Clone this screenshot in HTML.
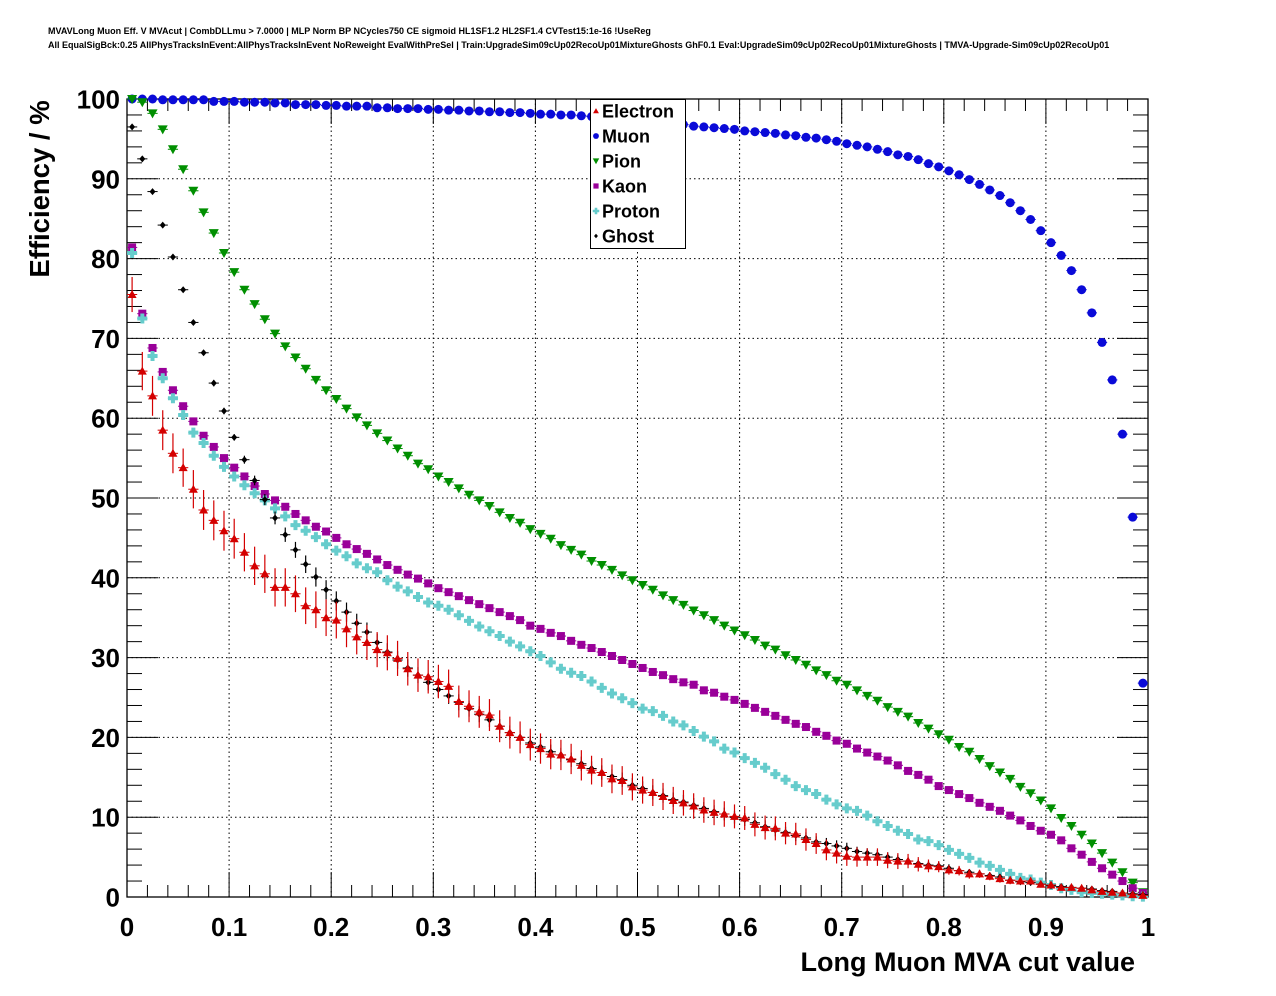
<!DOCTYPE html>
<html><head><meta charset="utf-8"><style>
html,body{margin:0;padding:0;background:#fff;}
svg{display:block;font-family:"Liberation Sans",Arial,sans-serif;}
</style></head><body>
<svg id="chart" width="1276" height="996" viewBox="0 0 1276 996" xmlns="http://www.w3.org/2000/svg">
<rect x="0" y="0" width="1276" height="996" fill="#fff"/>
<text x="48" y="34" font-size="9" font-weight="bold">MVAVLong Muon Eff. V MVAcut | CombDLLmu &gt; 7.0000 | MLP Norm BP NCycles750 CE sigmoid HL1SF1.2 HL2SF1.4 CVTest15:1e-16 !UseReg</text>
<text x="48" y="48" font-size="9" font-weight="bold">All EqualSigBck:0.25 AllPhysTracksInEvent:AllPhysTracksInEvent NoReweight EvalWithPreSel | Train:UpgradeSim09cUp02RecoUp01MixtureGhosts GhF0.1 Eval:UpgradeSim09cUp02RecoUp01MixtureGhosts | TMVA-Upgrade-Sim09cUp02RecoUp01</text>
<g id="grid"></g>
<g id="axes"></g>
<g id="series"></g>
<text x="1135" y="971" font-size="27" font-weight="bold" text-anchor="end">Long Muon MVA cut value</text>
<text transform="translate(49,189) rotate(-90)" font-size="27.5" font-weight="bold" text-anchor="middle">Efficiency / %</text>
<g id="legend"></g>
</svg>
<script>
const binCenters = Array.from({length:100},(_, i)=>0.005+0.01*i);
const xTicks = ["0","0.1","0.2","0.3","0.4","0.5","0.6","0.7","0.8","0.9","1"];
const yTicks = ["0","10","20","30","40","50","60","70","80","90","100"];
const legendLabels = ["Electron","Muon","Pion","Kaon","Proton","Ghost"];

const electron = [75.5,65.9,62.8,58.5,55.6,53.8,51.1,48.5,47.2,45.9,44.9,43.2,41.5,40.5,38.8,38.8,38.0,36.5,36.0,35.0,34.7,33.6,32.6,31.9,31.0,30.6,29.9,28.6,27.8,27.6,27.0,26.4,24.5,23.9,23.2,22.8,21.4,20.6,20.0,
19.1,18.6,17.9,17.8,17.3,16.5,15.9,15.6,14.8,14.6,13.8,13.4,13.1,12.6,12.1,11.8,11.4,10.9,10.6,10.4,10.1,9.9,9.1,8.7,8.6,8.0,7.9,7.2,6.7,5.9,5.5,5.1,
5.0,5.0,5.0,4.6,4.5,4.5,4.1,3.9,3.8,3.4,3.3,2.9,2.9,2.6,2.3,2.1,2.0,2.0,1.6,1.5,1.2,1.2,1.1,0.9,0.7,0.6,0.5,0.3,0.2];
const electronErr = [2.2,2.4,2.5,2.5,2.5,2.4,2.4,2.5,2.5,2.5,2.5,2.4,2.4,2.4,2.4,2.4,2.3,2.3,2.3,2.3,2.3,2.3,2.2,2.2,2.2,2.2,2.2,2.1,2.1,2.1,2.1,2.1,2.0,2.0,2.0,2.0,2.0,2.0,2.0,
2.0,1.9,1.9,1.9,1.9,1.9,1.8,1.8,1.8,1.8,1.7,1.7,1.7,1.7,1.7,1.6,1.6,1.6,1.6,1.6,1.5,1.5,1.5,1.5,1.5,1.4,1.4,1.4,1.3,1.3,1.3,1.2,
1.2,1.1,1.1,1.0,1.0,0.9,0.9,0.8,0.7,0.6,0.6,0.6,0.5,0.5,0.5,0.5,0.4,0.4,0.4,0.4,0.3,0.3,0.3,0.3,0.3,0.2,0.2,0.2,0.2];
const muon = [100,100,100,99.9,99.9,99.9,99.9,99.9,99.7,99.7,
99.7,99.6,99.6,99.6,99.5,99.5,99.3,99.3,99.3,99.2,
99.2,99.1,99.1,99.1,98.9,98.9,98.8,98.8,98.8,98.7,
98.7,98.6,98.6,98.5,98.5,98.4,98.4,98.3,98.3,98.2,
98.1,98.1,98.0,98.0,97.9,97.8,97.7,97.6,97.5,97.4,
97.2,97.1,97.0,96.9,96.8,96.6,96.5,96.4,96.3,96.2,
96.0,95.9,95.8,95.7,95.5,95.4,95.2,95.1,94.9,94.7,
94.4,94.2,94.0,93.7,93.4,93.0,92.8,92.4,91.9,91.5,
91.0,90.5,89.9,89.3,88.6,87.9,87.0,86.0,84.9,83.5,
82.0,80.4,78.5,76.1,73.2,69.5,64.8,58.0,47.6,26.8];
const pion = [100,99.6,98.2,96.2,93.7,91.2,88.5,85.8,83.2,80.7,78.3,76.1,74.3,72.4,70.6,69.0,67.6,66.2,64.8,63.5,62.4,61.2,60.1,59.1,58.1,57.2,56.2,55.3,54.3,
53.6,52.7,52.0,51.2,50.4,49.7,49.0,48.2,47.5,46.9,
46.1,45.5,44.9,44.1,43.5,42.9,42.1,41.6,41.0,40.3,39.7,39.1,38.5,37.8,37.2,36.6,35.9,35.3,34.7,34.0,33.4,32.8,32.2,31.5,31.0,30.3,29.7,29.1,28.4,27.8,27.1,26.6,
25.9,25.2,24.6,23.8,23.2,22.6,21.8,21.1,20.4,19.7,18.8,18.2,17.3,16.4,15.6,14.8,13.8,13.0,12.1,11.1,9.9,8.9,7.8,6.7,5.5,4.3,3.1,1.8,0.6];
const kaon = [81.4,73.1,68.8,65.8,63.5,61.5,59.6,57.8,56.4,55.0,53.8,52.7,51.5,50.5,49.7,48.9,
48.0,47.2,46.4,45.8,45.0,44.2,43.6,43.0,42.3,41.6,41.0,40.4,39.9,39.3,38.7,38.2,37.7,37.2,36.7,36.2,35.7,35.2,34.7,
34.0,33.6,33.1,32.7,32.1,31.6,31.2,30.7,30.2,29.7,29.2,28.7,28.2,27.8,27.3,26.9,26.6,25.9,25.6,25.1,24.7,24.2,23.7,23.2,22.7,22.2,21.7,21.3,20.7,20.2,19.6,19.2,
18.6,18.1,17.6,17.1,16.5,15.8,15.3,14.7,13.9,13.4,12.9,12.4,11.8,11.3,10.8,10.2,9.6,8.9,8.3,7.8,7.1,6.1,5.3,4.4,3.6,2.8,2.0,1.1,0.5];
const proton = [80.7,72.5,67.8,65.0,62.5,60.4,58.2,56.9,55.3,53.9,
52.7,51.6,50.6,49.7,48.7,47.7,46.6,45.9,45.1,44.2,
43.4,42.7,41.8,41.2,40.7,39.7,38.9,38.3,37.6,36.9,
36.5,36.0,35.3,34.6,33.9,33.3,32.7,
32.0,31.4,30.8,30.2,29.4,28.6,28.1,27.7,27.0,26.2,
25.5,24.9,24.3,23.6,23.3,22.7,22.0,21.5,20.8,20.1,
19.5,18.6,18.1,17.4,16.8,16.2,15.4,14.7,13.9,13.4,
12.9,12.2,11.6,11.1,
10.8,10.2,9.5,8.9,8.3,7.9,7.2,7.0,6.5,
5.9,5.4,4.9,4.3,3.9,3.4,2.9,2.4,2.2,1.8,
1.5,1.1,0.9,0.6,0.5,0.4,0.3,0.2,0.1,0.05];
const ghost = [96.5,92.5,88.4,84.2,80.2,76.1,72.0,68.2,64.4,60.9,57.6,54.8,52.2,49.8,
47.5,45.4,43.5,41.7,40.1,38.5,37.1,35.7,34.3,33.2,31.9,30.7,29.7,28.7,27.8,26.9,26.0,25.2,24.4,23.6,22.9,22.2,21.4,20.6,
20.0,19.3,18.8,18.2,17.8,17.2,16.7,16.1,15.6,15.1,14.7,14.0,13.6,13.1,12.7,12.2,11.9,11.5,11.1,10.7,10.4,10.0,9.7,9.3,8.8,8.4,8.1,7.7,7.4,6.9,6.7,6.4,6.1,
5.7,5.5,5.3,5.0,4.7,4.5,4.2,4.0,3.9,3.6,3.3,3.1,2.9,2.7,2.5,2.1,1.9,1.8,1.6,1.4,1.3,1.2,1.1,1.0,0.8,0.7,0.5,0.4,0.3];
const ghostErr = [0.2,0.2,0.2,0.3,0.3,0.3,0.3,0.3,0.4,0.4,0.4,0.5,0.6,0.7,0.8,0.9,1.0,1.1,1.2,1.2,1.2,1.2,1.2,1.2,1.1,1.1,1.1,1.1,1.0,1.0,1.0,1.0,1.0,1.0,1.0,0.9,0.9,0.9,0.9,
0.9,0.9,0.9,0.9,0.9,0.9,0.9,0.9,0.9,0.9,0.9,0.9,0.9,0.9,0.9,0.9,0.9,0.8,0.8,0.8,0.8,0.8,0.8,0.8,0.8,0.7,0.7,0.7,0.7,0.7,0.7,0.7,
0.6,0.6,0.6,0.6,0.6,0.5,0.5,0.5,0.5,0.5,0.4,0.4,0.4,0.4,0.4,0.3,0.3,0.3,0.3,0.3,0.3,0.2,0.2,0.2,0.2,0.2,0.2,0.2,0.2];

const NS = "http://www.w3.org/2000/svg";
const X0 = 127, X1 = 1148, Y0 = 897, Y1 = 99;
function xs(v){ return X0 + (X1 - X0) * v; }
function ys(v){ return Y0 - (Y0 - Y1) * v / 100; }
function mk(tag, attrs, parent){
  const e = document.createElementNS(NS, tag);
  for (const k in attrs) e.setAttribute(k, attrs[k]);
  parent.appendChild(e);
  return e;
}
const grid = document.getElementById('grid');
const axes = document.getElementById('axes');
const seriesG = document.getElementById('series');
const legend = document.getElementById('legend');

xTicks.forEach((t, i) => {
  const v = parseFloat(t);
  if (i > 0 && i < xTicks.length - 1) {
    const l = mk('line', {x1: xs(v), x2: xs(v), y1: Y1, y2: Y0, stroke: '#000', 'stroke-width': 1, 'stroke-dasharray': '1.5,3'}, grid);
    
    
  }
});
yTicks.forEach((t, i) => {
  const v = parseFloat(t);
  if (i > 0 && i < yTicks.length - 1) {
    const l = mk('line', {x1: X0, x2: X1, y1: ys(v), y2: ys(v), stroke: '#000', 'stroke-width': 1, 'stroke-dasharray': '1.5,3'}, grid);
    
    
  }
});

const frame = mk('rect', {x: X0, y: Y1, width: X1 - X0, height: Y0 - Y1, fill: 'none', stroke: '#000', 'stroke-width': 1.3}, axes);



for (let k = 0; k <= 50; k++) {
  const v = k * 0.02;
  const major = (k % 5 === 0);
  const len = major ? 25 : 12;
  const b = mk('line', {x1: xs(v), x2: xs(v), y1: Y0, y2: Y0 - len, stroke: '#000', 'stroke-width': 1}, axes);
  
  
  const t = mk('line', {x1: xs(v), x2: xs(v), y1: Y1, y2: Y1 + len, stroke: '#000', 'stroke-width': 1}, axes);
  
  
}
xTicks.forEach(t => {
  const tx = mk('text', {x: xs(parseFloat(t)), y: 936, 'font-size': 26, 'font-weight': 'bold', 'text-anchor': 'middle'}, axes);
  tx.textContent = t;
  
  
});
for (let k = 0; k <= 50; k++) {
  const v = k * 2;
  const major = (k % 5 === 0);
  const len = major ? 31 : 15;
  const l = mk('line', {x1: X0, x2: X0 + len, y1: ys(v), y2: ys(v), stroke: '#000', 'stroke-width': 1}, axes);
  
  
  const r = mk('line', {x1: X1, x2: X1 - len, y1: ys(v), y2: ys(v), stroke: '#000', 'stroke-width': 1}, axes);
  
  
}
yTicks.forEach(t => {
  const tx = mk('text', {x: 120, y: ys(parseFloat(t)) + 9.5, 'font-size': 26, 'font-weight': 'bold', 'text-anchor': 'end'}, axes);
  tx.textContent = t;
  
  
});

function marker(kind, cx, cy, color, parent, s) {
  s = s || 1;
  let e;
  if (kind === 'tri-up') {
    e = mk('polygon', {points: `${cx-4.5*s},${cy+3.5*s} ${cx+4.5*s},${cy+3.5*s} ${cx},${cy-4.5*s}`, fill: color}, parent);
  } else if (kind === 'tri-down') {
    e = mk('polygon', {points: `${cx-5*s},${cy-4*s} ${cx+5*s},${cy-4*s} ${cx},${cy+5*s}`, fill: color}, parent);
  } else if (kind === 'circle') {
    e = mk('circle', {cx: cx, cy: cy, r: 4.5*s, fill: color}, parent);
  } else if (kind === 'square') {
    e = mk('rect', {x: cx-4*s, y: cy-4*s, width: 8*s, height: 8*s, fill: color}, parent);
  } else if (kind === 'cross') {
    const a = 5*s, w = 2*s;
    e = mk('polygon', {points: `${cx-w},${cy-a} ${cx+w},${cy-a} ${cx+w},${cy-w} ${cx+a},${cy-w} ${cx+a},${cy+w} ${cx+w},${cy+w} ${cx+w},${cy+a} ${cx-w},${cy+a} ${cx-w},${cy+w} ${cx-a},${cy+w} ${cx-a},${cy-w} ${cx-w},${cy-w}`, fill: color}, parent);
  } else {
    e = mk('polygon', {points: `${cx},${cy-3.5*s} ${cx+3*s},${cy} ${cx},${cy+3.5*s} ${cx-3*s},${cy}`, fill: color}, parent);
  }
  return e;
}

const seriesDefs = [
  {name: 'electron', vals: electron, err: electronErr, color: '#d40000', kind: 'tri-up'},
  {name: 'muon', vals: muon, err: null, color: '#0a0ad8', kind: 'circle'},
  {name: 'pion', vals: pion, err: null, color: '#008f00', kind: 'tri-down'},
  {name: 'kaon', vals: kaon, err: null, color: '#990099', kind: 'square'},
  {name: 'proton', vals: proton, err: null, color: '#66cccc', kind: 'cross'},
  {name: 'ghost', vals: ghost, err: ghostErr, color: '#000000', kind: 'diamond'}
];
const drawOrder = ['muon','pion','kaon','proton','ghost','electron'];
drawOrder.forEach(nm => {
  const sd = seriesDefs.find(d => d.name === nm);
  const g = mk('g', {}, seriesG);
  
  
  sd.vals.forEach((v, i) => {
    const cx = xs(binCenters[i]), cy = ys(v);
    const hb = mk('line', {x1: xs(binCenters[i] - 0.005), x2: xs(binCenters[i] + 0.005), y1: cy, y2: cy, stroke: sd.color, 'stroke-width': 1}, g);
    
    
    if (sd.err) {
      const e = sd.err[i];
      const vb = mk('line', {x1: cx, x2: cx, y1: ys(v + e), y2: ys(Math.max(0, v - e)), stroke: sd.color, 'stroke-width': 1.2}, g);
      
      
    }
    const m = marker(sd.kind, cx, cy, sd.color, g);
    
    
  });
});

const lb = mk('rect', {x: 590.5, y: 99.5, width: 95, height: 149, fill: '#fff', stroke: '#000', 'stroke-width': 1}, legend);


legendLabels.forEach((lab, i) => {
  const sd = seriesDefs[i];
  const cy = 111 + 25 * i;
  const m = marker(sd.kind, 596, cy, sd.color, legend, 0.65);
  
  
  const t = mk('text', {x: 602, y: cy + 6.5, 'font-size': 18, 'font-weight': 'bold'}, legend);
  t.textContent = lab;
  
  
});
</script>
</body></html>
